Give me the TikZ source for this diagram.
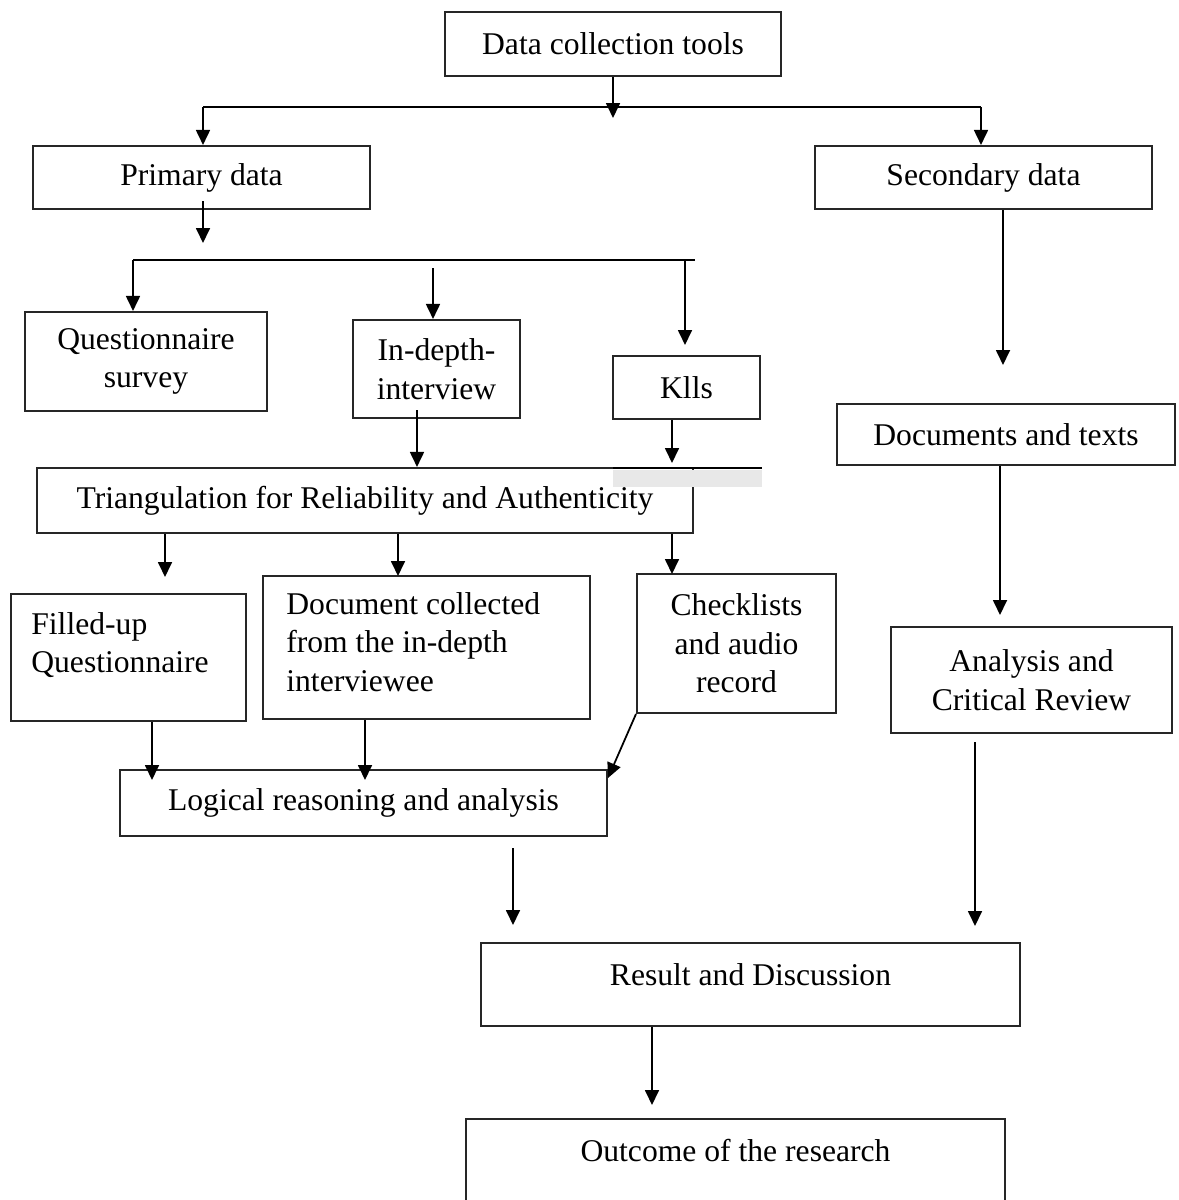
\documentclass[tikz,border=0pt]{standalone}
\usepackage{fontspec}
\setmainfont{Liberation Serif}
\usetikzlibrary{arrows.meta,positioning}

\begin{document}
\begin{tikzpicture}[
  x=0.02cm, y=-0.02cm,
  box/.style={draw=black!85, line width=1.2pt, align=center, inner sep=0pt,
    font=\fontsize{18}{22}\selectfont},
  boxtext/.style={inner sep=0pt, font=\fontsize{18}{22}\selectfont},
  arr/.style={-{Triangle[length=3mm, width=2.8mm]}, line width=1pt},
  link/.style={line width=1pt}
]
  \useasboundingbox (0,0) rectangle (1179,1200);
  \clip (0,0) rectangle (1179,1200);

  % top level
  \node[box, minimum width=6.72cm, minimum height=1.28cm] (tools) at (613,44) {Data collection tools};
  \node[box, minimum width=6.74cm, minimum height=1.26cm] (primary) at (201.5,177.5) {Primary data};
  \node[box, minimum width=6.74cm, minimum height=1.26cm] (secondary) at (983.5,177.5) {Secondary data};

  % primary data tools
  \node[box, minimum width=4.84cm, minimum height=1.98cm] (quest) at (146,361.5) {Questionnaire\\survey};
  \node[box, minimum width=3.34cm, minimum height=1.96cm] (indepth) at (436.5,369) {In-depth-\\interview};
  \node[box, minimum width=2.94cm, minimum height=1.26cm] (klls) at (686.5,387.5) {Klls};
  \node[box, minimum width=13.12cm, minimum height=1.30cm] (triang) at (365,500.5) {Triangulation for Reliability and Authenticity};

  % outputs of triangulation
  \node[box, minimum width=4.7cm, minimum height=2.54cm] (filled) at (128.5,657.5) {};
  \node[boxtext, align=left, anchor=north west] (filledtxt) at (31,612) {Filled-up\\Questionnaire};
  \node[box, minimum width=6.54cm, minimum height=2.86cm] (docint) at (426.5,647.5) {};
  \node[boxtext, align=left, anchor=north west] (docinttxt) at (286,592) {Document collected\\from the in-depth\\interviewee};
  \node[box, minimum width=3.98cm, minimum height=2.78cm] (check) at (736.5,643.5) {Checklists\\and audio\\record};
  \node[box, minimum width=9.74cm, minimum height=1.32cm] (logical) at (363.5,803) {Logical reasoning and analysis};

  % secondary data
  \node[box, minimum width=6.76cm, minimum height=1.22cm] (docs) at (1006,434.5) {Documents and texts};
  \node[box, minimum width=5.62cm, minimum height=2.12cm] (analysis) at (1031.5,680) {Analysis and\\Critical Review};

  % results
  \node[box, minimum width=10.78cm, minimum height=1.66cm, text depth=11pt] (result) at (750.5,984.5) {Result and Discussion};
  \node[box, minimum width=10.78cm, minimum height=2.42cm, text depth=33pt] (outcome) at (735.5,1179.5) {Outcome of the research};

  % scan band over triangulation box
  \fill[black!9] (613,470) rectangle (762,487);
  \coordinate (bandL) at (613,468);
  \coordinate (tx) at (762,468);
  \draw[link] (bandL) -- (tx);

  % split from tools
  \coordinate (tsplit) at (613,118);
  \coordinate (tbarL) at (203,107);
  \coordinate (tbarR) at (981,107);
  \draw[arr] (tools.south) -- (tsplit);
  \draw[link] (tbarL) -- (tbarR);
  \draw[arr] (tbarL) -- (tbarL |- primary.north);
  \draw[arr] (tbarR) -- (tbarR |- secondary.north);

  % primary split
  \coordinate (pfoot) at (203,201);
  \coordinate (ptip) at (203,243);
  \coordinate (pbarL) at (133,260);
  \coordinate (pbarR) at (695,260);
  \coordinate (itop) at (433,268);
  \coordinate (ktip) at (685,345);
  \draw[arr] (pfoot) -- (ptip);
  \draw[link] (pbarL) -- (pbarR);
  \draw[arr] (pbarL) -- (pbarL |- quest.north);
  \draw[arr] (itop) -- (itop |- indepth.north);
  \draw[arr] (ktip |- pbarR) -- (ktip);

  % into triangulation
  \coordinate (ifoot) at (417,410);
  \coordinate (kfoot) at (672,463);
  \draw[arr] (ifoot) -- (ifoot |- triang.north);
  \draw[arr] (kfoot |- klls.south) -- (kfoot);

  % out of triangulation
  \coordinate (fq) at (165,577);
  \coordinate (dq) at (398,576);
  \coordinate (cq) at (672,574);
  \draw[arr] (fq |- triang.south) -- (fq);
  \draw[arr] (dq |- triang.south) -- (dq);
  \draw[arr] (cq |- triang.south) -- (cq);

  % into logical reasoning
  \coordinate (fl) at (152,780);
  \coordinate (dl) at (365,780);
  \coordinate (cl) at (608,778);
  \draw[arr] (fl |- filled.south) -- (fl);
  \draw[arr] (dl |- docint.south) -- (dl);
  \draw[arr] (check.south west) -- (cl);

  % secondary chain
  \coordinate (stip) at (1003,365);
  \coordinate (dtip) at (1000,615);
  \draw[arr] (stip |- secondary.south) -- (stip);
  \draw[arr] (dtip |- docs.south) -- (dtip);

  % towards results
  \coordinate (lfoot) at (513,848);
  \coordinate (ltip) at (513,925);
  \coordinate (afoot) at (975,742);
  \coordinate (atip) at (975,926);
  \coordinate (otip) at (652,1105);
  \draw[arr] (lfoot) -- (ltip);
  \draw[arr] (afoot) -- (atip);
  \draw[arr] (otip |- result.south) -- (otip);
\end{tikzpicture}
\end{document}
